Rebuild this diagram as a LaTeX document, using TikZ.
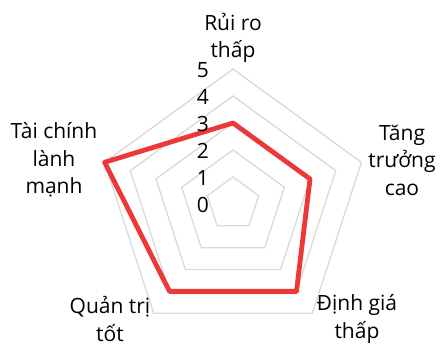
\documentclass[tikz,border=0pt]{standalone}
\usepackage{fontspec}
\setmainfont{Open Sans}
\usetikzlibrary{positioning}
\definecolor{gridgray}{RGB}{217,217,217}
\definecolor{seriesred}{RGB}{236,56,56}

\begin{document}
\begin{tikzpicture}[x=1pt,y=1pt,
        grid/.style={draw=gridgray,line width=1.3pt},
        series/.style={draw=seriesred,line width=4.8pt,line join=round},
        axislabel/.style={align=center,font=\fontsize{21}{27.5}\selectfont,inner sep=0pt},
        ticklabel/.style={anchor=east,font=\fontsize{21}{25}\selectfont,inner sep=0pt}]

        \useasboundingbox (0,0) rectangle (441,345);

        \begin{scope}[shift={(233,141)}]
        % grid
        \draw[grid] (90:27) -- (18:27) -- (-54:27) -- (-126:27) -- (162:27) -- cycle;
        \draw[grid] (90:54) -- (18:54) -- (-54:54) -- (-126:54) -- (162:54) -- cycle;
        \draw[grid] (90:81) -- (18:81) -- (-54:81) -- (-126:81) -- (162:81) -- cycle;
        \draw[grid] (90:108) -- (18:108) -- (-54:108) -- (-126:108) -- (162:108) -- cycle;
        \draw[grid] (90:135) -- (18:135) -- (-54:135) -- (-126:135) -- (162:135) -- cycle;

        % series
        \coordinate (risk) at (90:81);
        \coordinate (growth) at (18:81);
        \coordinate (value) at (-54:108);
        \coordinate (gov) at (-126:108);
        \coordinate (fin) at (162:135);
        \draw[series] (risk) -- (growth) -- (value) -- (gov) -- (fin) -- cycle;

        % scale
        \node[ticklabel] (t0) at (-24,-1) {0};
        \node[ticklabel] (t1) at (-24,26) {1};
        \node[ticklabel] (t2) at (-24,53) {2};
        \node[ticklabel] (t3) at (-24,80) {3};
        \node[ticklabel] (t4) at (-24,107) {4};
        \node[ticklabel] (t5) at (-24,134) {5};
        \end{scope}

        % axes
        \node[axislabel] (riskl) at (233,307) {Rủi ro\\thấp};
        \node[axislabel] (growthl) at (402,185) {Tăng\\trưởng\\cao};
        \node[axislabel] (valuel) at (357,26) {Định giá\\thấp};
        \node[axislabel] (govl) at (110,26) {Quản trị\\tốt};
        \node[axislabel] (finl) at (54,185) {Tài chính\\lành\\mạnh};

\end{tikzpicture}
\end{document}
